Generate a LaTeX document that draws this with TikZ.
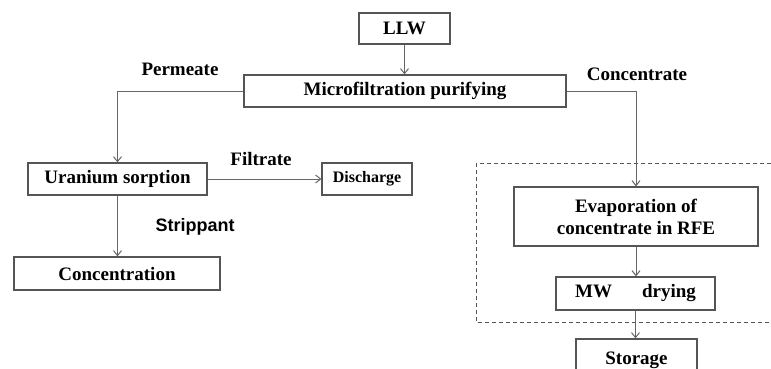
\documentclass[tikz,border=0pt]{standalone}
\usepackage{fontspec}
\setmainfont{Liberation Serif}
\newfontfamily\labsans{Liberation Sans}
\usetikzlibrary{arrows.meta}
\definecolor{boxgray}{HTML}{555555}
\definecolor{linegray}{HTML}{666666}
\tikzset{
  x=1pt, y=-1pt,
  proc/.style={draw=boxgray, line width=1.2pt, rectangle, inner sep=0pt,
    font=\fontsize{19}{22}\selectfont\bfseries, align=center},
  conn/.style={draw=linegray, line width=1pt, -{Straight Barb[length=5pt,width=8pt]}},
  plain/.style={draw=linegray, line width=1pt},
  lab/.style={font=\fontsize{19}{22}\selectfont\bfseries, inner sep=0pt},
  grp/.style={draw=boxgray, line width=1pt, dash pattern=on 4pt off 3pt}
}
\begin{document}
\begin{tikzpicture}
\useasboundingbox (0,0) rectangle (771,369);
\clip (0,0) rectangle (771,369);
\draw[grp] (476,163) rectangle (790,322);
\node[proc, minimum width=91pt, minimum height=31pt] (llw) at (404.5,28.5) {LLW};
\node[proc, minimum width=322pt, minimum height=32pt] (micro) at (405,91) {Microfiltration purifying};
\node[proc, minimum width=179pt, minimum height=32pt] (uran) at (117.5,179) {Uranium sorption};
\node[proc, minimum width=90pt, minimum height=32pt, font=\fontsize{16}{19}\selectfont\bfseries] (dis) at (367,179) {Discharge};
\node[proc, minimum width=206pt, minimum height=33pt] (conc) at (117,273.5) {Concentration};
\node[proc, minimum width=244pt, minimum height=59pt] (evap) at (636,216.5) {Evaporation of\\concentrate in RFE};
\node[proc, minimum width=159pt, minimum height=33pt] (mw) at (635.5,293.5) {MW\hspace{30pt}drying};
\node[proc, minimum width=121pt, minimum height=42pt] (stor) at (636.5,360) {Storage};
\node[lab] (perm) at (180,69) {Permeate};
\node[lab] (concl) at (637,74) {Concentrate};
\node[lab] (filt) at (261,159) {Filtrate};
\node[lab, font=\fontsize{18}{21}\selectfont\bfseries\labsans] (strip) at (195,227) {Strippant};
\draw[conn] (llw.south) -- (llw.south |- micro.north);
\draw[conn] (micro.west) -| (uran.north);
\draw[conn] (micro.east) -| (evap.north);
\draw[conn] (uran.east) -- (dis.west);
\draw[conn] (uran.south) -- (uran.south |- conc.north);
\draw[conn] (evap.south) -- (evap.south |- mw.north);
\draw[conn] (mw.south) -- (mw.south |- stor.north);
\end{tikzpicture}
\end{document}
